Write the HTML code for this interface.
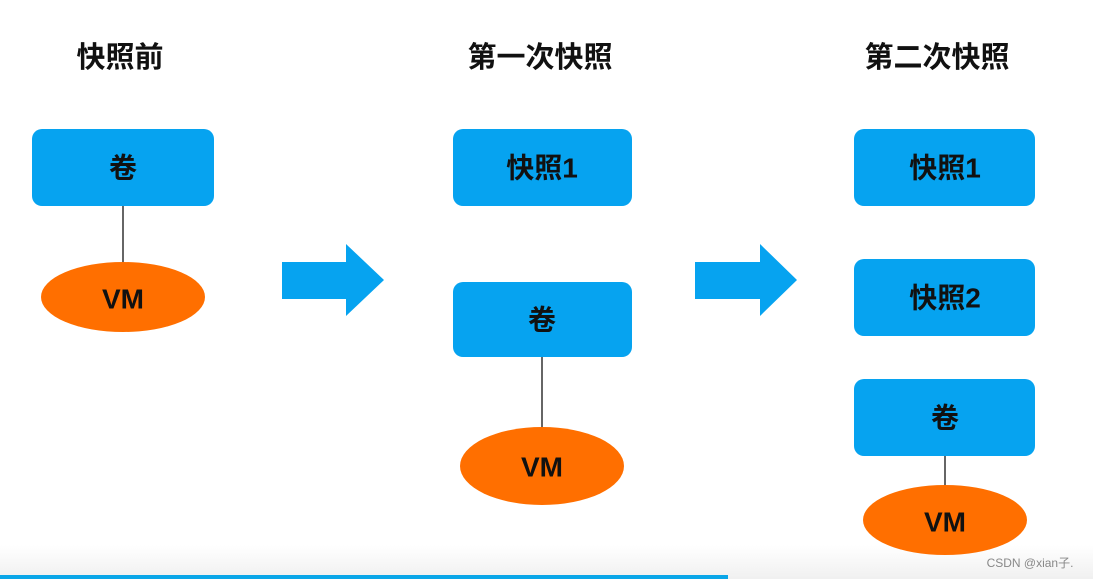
<!DOCTYPE html>
<html><head><meta charset="utf-8"><style>
html,body{margin:0;padding:0;width:1093px;height:579px;overflow:hidden;background:#fff}
svg{display:block}
text{font-family:"Liberation Sans","Noto Sans CJK SC",sans-serif;font-weight:bold;fill:#111;text-anchor:middle;dominant-baseline:central}
</style></head><body>
<svg width="1093" height="579" viewBox="0 0 1093 579">
<defs><linearGradient id="g" x1="0" y1="0" x2="0" y2="1"><stop offset="0" stop-color="#fff"/><stop offset="1" stop-color="#f0f0f0"/></linearGradient></defs>
<rect x="0" y="545" width="1093" height="34" fill="url(#g)"/>
<rect x="0" y="575" width="728" height="4" fill="#0aa6e8"/>
<g font-size="29">
<text x="120" y="58">快照前</text>
<text x="540" y="58">第一次快照</text>
<text x="937" y="58">第二次快照</text>
</g>
<g stroke="#333" stroke-width="1.5">
<line x1="123" y1="206" x2="123" y2="264"/>
<line x1="542" y1="357" x2="542" y2="428"/>
<line x1="945" y1="456" x2="945" y2="488"/>
</g>
<g fill="#06a3f0">
<rect x="32" y="129" width="182" height="77" rx="10"/>
<rect x="453" y="129" width="179" height="77" rx="10"/>
<rect x="453" y="282" width="179" height="75" rx="10"/>
<rect x="854" y="129" width="181" height="77" rx="10"/>
<rect x="854" y="259" width="181" height="77" rx="10"/>
<rect x="854" y="379" width="181" height="77" rx="10"/>
<polygon points="282,262 346,262 346,244 384,280 346,316 346,299 282,299"/>
<polygon points="695,262 760,262 760,244 797,280 760,316 760,299 695,299"/>
</g>
<g fill="#ff6f00">
<ellipse cx="123" cy="297" rx="82" ry="35"/>
<ellipse cx="542" cy="466" rx="82" ry="39"/>
<ellipse cx="945" cy="520" rx="82" ry="35"/>
</g>
<g font-size="28">
<text x="123" y="168">卷</text>
<text x="542" y="168">快照1</text>
<text x="542" y="320">卷</text>
<text x="945" y="168">快照1</text>
<text x="945" y="298">快照2</text>
<text x="945" y="418">卷</text>
<text x="123" y="299">VM</text>
<text x="542" y="467">VM</text>
<text x="945" y="522">VM</text>
</g>
<text x="1030" y="563" font-size="12" style="font-weight:normal;fill:#888">CSDN @xian子.</text>
</svg>
</body></html>
